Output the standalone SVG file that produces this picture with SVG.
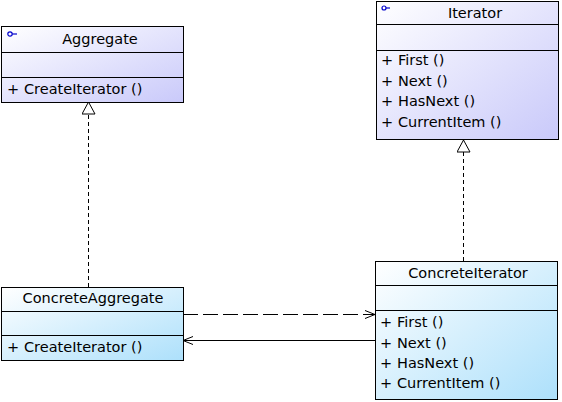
<svg xmlns="http://www.w3.org/2000/svg" width="562" height="402" viewBox="0 0 562 402">
<defs>
<linearGradient id="gA" x1="0" y1="0" x2="1" y2="1">
<stop offset="0" stop-color="#ffffff"/>
<stop offset="1" stop-color="#c9c9fa"/>
</linearGradient>
<linearGradient id="gC" x1="0" y1="0" x2="1" y2="1">
<stop offset="0" stop-color="#ffffff"/>
<stop offset="1" stop-color="#ade0fb"/>
</linearGradient>
<marker id="open" markerWidth="12" markerHeight="10" refX="11" refY="5" orient="auto" markerUnits="userSpaceOnUse">
<path d="M1,1 L11,5 L1,9" fill="none" stroke="#000" stroke-width="1"/>
</marker>
<marker id="tri" markerWidth="14" markerHeight="14" refX="13" refY="7" orient="auto" markerUnits="userSpaceOnUse">
<path d="M13,7 L1,0.5 L1,13.5 Z" fill="#fff" stroke="#000" stroke-width="1"/>
</marker>
</defs>
<style>
.box{stroke:#000;stroke-width:1}
.sep{stroke:#000;stroke-width:1}
text{font-family:"DejaVu Sans","Liberation Sans",sans-serif;font-size:14.5px;fill:#000}
.c{text-anchor:middle}
.icon{fill:none;stroke:#0000cc;stroke-width:1.2}
.dash{fill:none;stroke:#000;stroke-width:1;stroke-dasharray:4,3}
</style>
<g id="connectors">
<line class="dash" x1="88.5" y1="287" x2="88.5" y2="102" marker-end="url(#tri)"/>
<line class="dash" x1="463.5" y1="261" x2="463.5" y2="140" marker-end="url(#tri)"/>
<line x1="183" y1="314.5" x2="375" y2="314.5" stroke="#000" stroke-width="1" stroke-dasharray="15,5" marker-end="url(#open)"/>
<line x1="375" y1="340.5" x2="183" y2="340.5" stroke="#000" stroke-width="1" marker-end="url(#open)"/>
</g>
<g id="Aggregate">
<rect class="box" x="1.5" y="26.5" width="182" height="76" fill="url(#gA)"/>
<line class="sep" x1="1.5" y1="52.5" x2="183.5" y2="52.5"/>
<line class="sep" x1="1.5" y1="77.5" x2="183.5" y2="77.5"/>
<circle class="icon" cx="10" cy="34" r="2.2"/>
<line class="icon" x1="12.2" y1="34" x2="17" y2="34"/>
<text class="c" x="100" y="44">Aggregate</text>
<text x="7" y="94">+</text>
<text x="24" y="94">CreateIterator ()</text>
</g>
<g id="Iterator">
<rect class="box" x="376.5" y="1.5" width="182" height="138" fill="url(#gA)"/>
<line class="sep" x1="376.5" y1="24.5" x2="558.5" y2="24.5"/>
<line class="sep" x1="376.5" y1="50.5" x2="558.5" y2="50.5"/>
<circle class="icon" cx="384" cy="8" r="2"/>
<line class="icon" x1="386" y1="8" x2="390" y2="8"/>
<text class="c" x="475" y="18">Iterator</text>
<text x="381" y="65">+</text><text x="398" y="65">First ()</text>
<text x="381" y="86">+</text><text x="398" y="86">Next ()</text>
<text x="381" y="106">+</text><text x="398" y="106">HasNext ()</text>
<text x="381" y="127">+</text><text x="398" y="127">CurrentItem ()</text>
</g>
<g id="ConcreteAggregate">
<rect class="box" x="1.5" y="287.5" width="182" height="73" fill="url(#gC)"/>
<line class="sep" x1="1.5" y1="311.5" x2="183.5" y2="311.5"/>
<line class="sep" x1="1.5" y1="335.5" x2="183.5" y2="335.5"/>
<text class="c" x="93" y="303">ConcreteAggregate</text>
<text x="7" y="352">+</text>
<text x="24" y="352">CreateIterator ()</text>
</g>
<g id="ConcreteIterator">
<rect class="box" x="375.5" y="261.5" width="182" height="138" fill="url(#gC)"/>
<line class="sep" x1="375.5" y1="285.5" x2="557.5" y2="285.5"/>
<line class="sep" x1="375.5" y1="310.5" x2="557.5" y2="310.5"/>
<text class="c" x="468" y="278">ConcreteIterator</text>
<text x="380" y="327">+</text><text x="397" y="327">First ()</text>
<text x="380" y="348">+</text><text x="397" y="348">Next ()</text>
<text x="380" y="368">+</text><text x="397" y="368">HasNext ()</text>
<text x="380" y="388">+</text><text x="397" y="388">CurrentItem ()</text>
</g>
</svg>
